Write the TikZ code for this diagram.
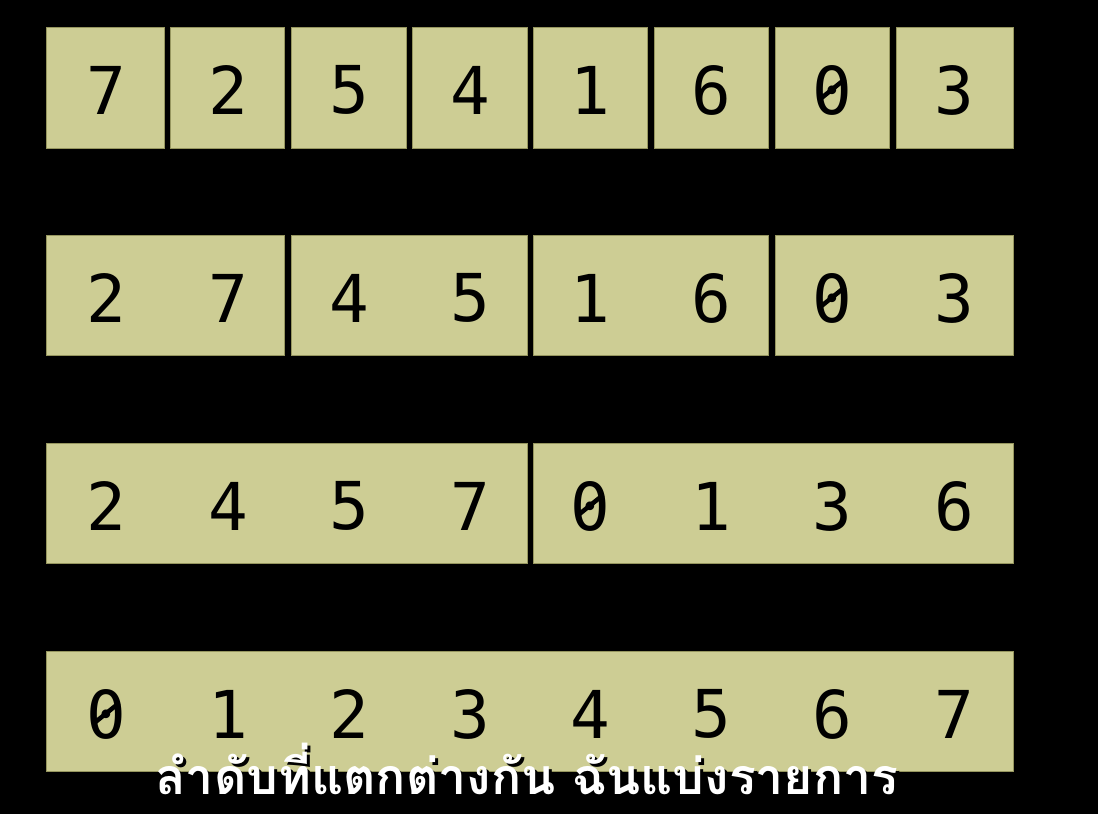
\documentclass[tikz,border=0pt]{standalone}
\usepackage{fontspec}
\setmonofont{DejaVu Sans Mono}
\newfontfamily\thaifont[Script=Thai]{Loma}
\definecolor{khaki}{RGB}{205,205,148}
\definecolor{khakiedge}{RGB}{150,150,95}
\tikzset{
  cell/.style={fill=khaki, draw=khakiedge, line width=0.8pt},
  digit/.style={font=\ttfamily\fontsize{66}{70}\selectfont, inner sep=0pt},
  zeroslash/.style={line width=4.5pt},
  subtitle/.style={font=\thaifont\bfseries\fontsize{50}{56}\selectfont, inner sep=0pt, anchor=base, xscale=1.0}
}
\begin{document}
\begin{tikzpicture}[x=1pt, y=-1pt]
\fill[black] (0,0) rectangle (1098,814);
\useasboundingbox (0,0) rectangle (1098,814);

% row 1: single items
\draw[cell] (46,27)  rectangle (164,148);
\draw[cell] (170,27) rectangle (284,148);
\draw[cell] (291,27) rectangle (406,148);
\draw[cell] (412,27) rectangle (527,148);
\draw[cell] (533,27) rectangle (647,148);
\draw[cell] (654,27) rectangle (768,148);
\draw[cell] (775,27) rectangle (889,148);
\draw[cell] (896,27) rectangle (1013,148);

\node[digit] (a1) at (106,90) {7};
\node[digit] (a2) at (228,90) {2};
\node[digit] (a3) at (349,90) {5};
\node[digit] (a4) at (470,90) {4};
\node[digit] (a5) at (590,90) {1};
\node[digit] (a6) at (711,90) {6};
\node[digit] (a7) at (832,90) {0};
\node[digit] (a8) at (954,90) {3};

% row 2: pairs
\draw[cell] (46,235)  rectangle (284,355);
\draw[cell] (291,235) rectangle (527,355);
\draw[cell] (533,235) rectangle (768,355);
\draw[cell] (775,235) rectangle (1013,355);

\node[digit] (b1) at (106,298) {2};
\node[digit] (b2) at (228,298) {7};
\node[digit] (b3) at (349,298) {4};
\node[digit] (b4) at (470,298) {5};
\node[digit] (b5) at (590,298) {1};
\node[digit] (b6) at (711,298) {6};
\node[digit] (b7) at (832,298) {0};
\node[digit] (b8) at (954,298) {3};

% row 3: quadruples
\draw[cell] (46,443)  rectangle (527,563);
\draw[cell] (533,443) rectangle (1013,563);

\node[digit] (c1) at (106,506) {2};
\node[digit] (c2) at (228,506) {4};
\node[digit] (c3) at (349,506) {5};
\node[digit] (c4) at (470,506) {7};
\node[digit] (c5) at (590,506) {0};
\node[digit] (c6) at (711,506) {1};
\node[digit] (c7) at (832,506) {3};
\node[digit] (c8) at (954,506) {6};

% row 4: sorted
\draw[cell] (46,651) rectangle (1013,771);

\node[digit] (d1) at (106,714) {0};
\node[digit] (d2) at (228,714) {1};
\node[digit] (d3) at (349,714) {2};
\node[digit] (d4) at (470,714) {3};
\node[digit] (d5) at (590,714) {4};
\node[digit] (d6) at (711,714) {5};
\node[digit] (d7) at (832,714) {6};
\node[digit] (d8) at (954,714) {7};

% slashes through the zeros
\draw[zeroslash] ([shift={(-13,10)}]a7.center) -- ([shift={(13,-11)}]a7.center);
\draw[zeroslash] ([shift={(-13,10)}]b7.center) -- ([shift={(13,-11)}]b7.center);
\draw[zeroslash] ([shift={(-13,10)}]c5.center) -- ([shift={(13,-11)}]c5.center);
\draw[zeroslash] ([shift={(-13,10)}]d1.center) -- ([shift={(13,-11)}]d1.center);

% subtitle
\node[subtitle, text=black] (shadow) at (530,797) {ลำดับที่แตกต่างกัน ฉันแบ่งรายการ};
\node[subtitle, text=white] (caption) at (527,794) {ลำดับที่แตกต่างกัน ฉันแบ่งรายการ};
\end{tikzpicture}
\end{document}
